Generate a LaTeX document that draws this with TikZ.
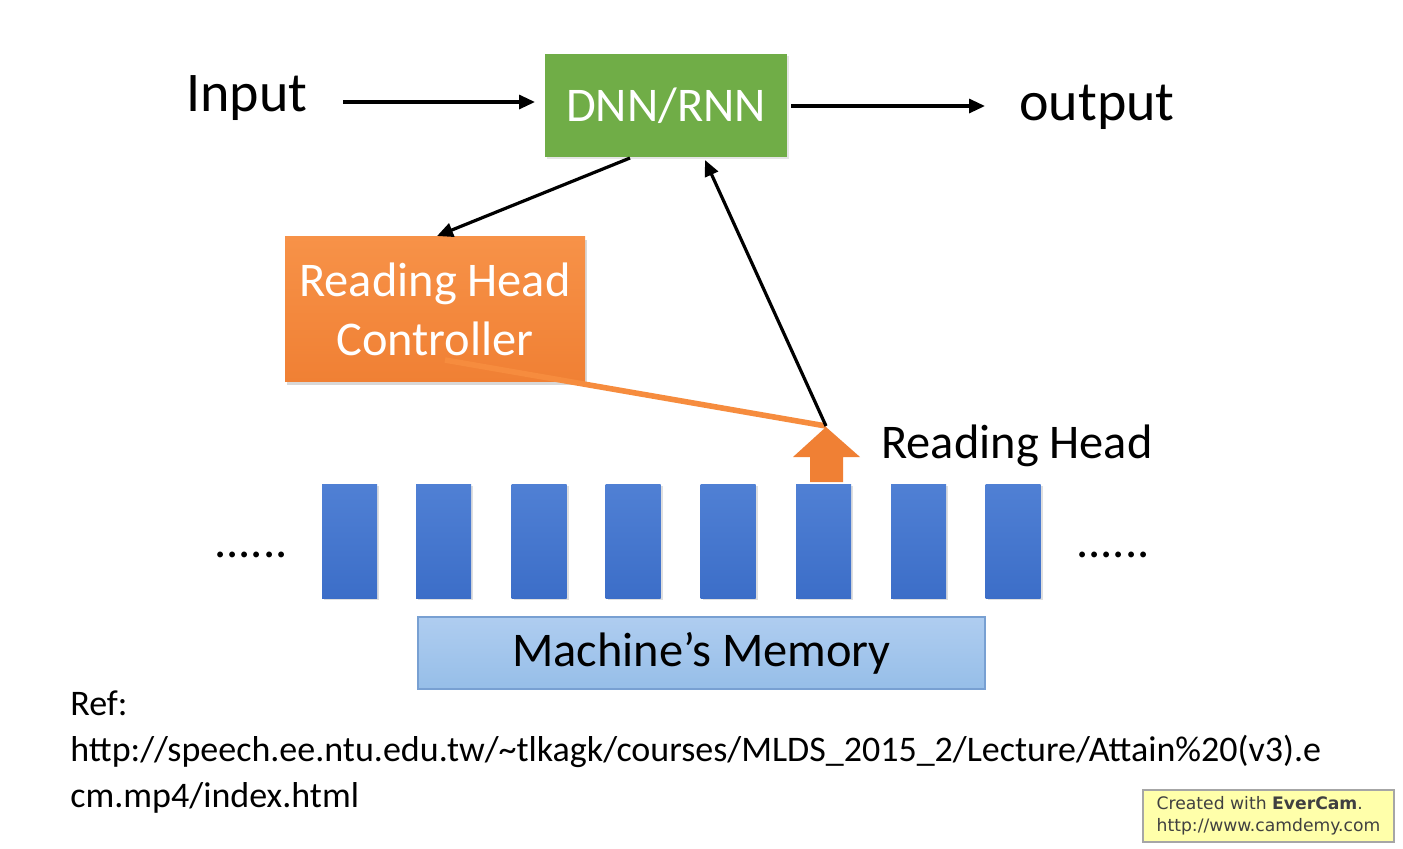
\documentclass[tikz,border=0pt]{standalone}
\usepackage{fontspec}
\setmainfont{Carlito}
\newfontfamily\evfont{DejaVu Sans}
\usetikzlibrary{arrows.meta,shadows}
\definecolor{dnngreen}{RGB}{112,173,71}
\definecolor{ctrlorange}{RGB}{240,128,52}
\definecolor{ctrltop}{RGB}{247,146,72}
\definecolor{linkorange}{RGB}{246,140,62}
\definecolor{barblue}{RGB}{60,110,200}
\definecolor{bartop}{RGB}{80,128,212}
\definecolor{membot}{RGB}{150,190,232}
\definecolor{memtop}{RGB}{175,205,240}
\definecolor{memedge}{RGB}{120,160,210}
\definecolor{evyellow}{RGB}{255,255,170}
\tikzset{
  lbl/.style={font=\fontsize{28}{32}\selectfont, inner sep=0pt},
  lblsm/.style={font=\fontsize{24.2}{29}\selectfont, inner sep=0pt},
  conn/.style={line width=1.6pt, -{Triangle[length=8pt,width=7pt]}},
  membar/.style={draw=none, top color=bartop, bottom color=barblue, minimum width=27.5pt, minimum height=57pt, inner sep=0pt, drop shadow={opacity=0.25, shadow xshift=1pt, shadow yshift=-1pt}},
}
\begin{document}
\begin{tikzpicture}[x=0.5pt,y=-0.5pt]
\useasboundingbox[fill=white] (0,0) rectangle (1403,848);

% top row
\node[lbl] (input) at (247,98) {Input};
\node[lbl] (output) at (1097,107) {output};
\node[lblsm, fill=dnngreen, text=white, minimum width=121pt, minimum height=51.5pt, drop shadow={opacity=0.2, shadow xshift=1pt, shadow yshift=-1pt}] (dnn) at (666,105.5) {DNN/RNN};
\coordinate (inA) at (343,102);
\coordinate (inB) at (535,102);
\coordinate (outA) at (791,106);
\coordinate (outB) at (985,106);
\draw[conn] (inA) -- (inB);
\draw[conn] (outA) -- (outB);

% controller
\node[lblsm, top color=ctrltop, bottom color=ctrlorange, text=white, minimum width=150pt, minimum height=72.5pt, align=center, drop shadow={opacity=0.3, shadow xshift=1pt, shadow yshift=-1.5pt}] (ctrl) at (435,309) {Reading Head\\[0.5pt]Controller};
\coordinate (dnnout) at (630,158);
\coordinate (ctrlin) at (437,236);
\draw[conn] (dnnout) -- (ctrlin);

% reading head
\coordinate (ctrlsrc) at (445,360);
\coordinate (headtip) at (826,426);
\draw[linkorange, line width=2.8pt] (ctrlsrc) -- (headtip);
\fill[ctrlorange] (826,427) -- (860,457) -- (843,457) -- (843,482) -- (810,482) -- (810,457) -- (793,457) -- cycle;
\coordinate (dnnin) at (705,160);
\draw[conn] (headtip) -- (dnnin);
\node[lblsm] (rhlabel) at (1017,446) {Reading Head};

% memory bars
\foreach \i/\x in {1/349.5,2/443.5,3/539,4/633,5/728,6/823.5,7/918.5,8/1013}{
  \node[membar] (bar\i) at (\x,541) {};
}
\node[lblsm] (dotsl) at (251,555) {......};
\node[lblsm] (dotsr) at (1113,555) {......};

% memory
\node[lblsm, top color=memtop, bottom color=membot, draw=memedge, line width=0.6pt, minimum width=283.5pt, minimum height=36pt] (mem) at (701.5,653) {Machine’s Memory};

% reference
\node[font=\fontsize{18}{22}\selectfont, anchor=north west, align=left, inner sep=0pt] (ref) at (70,690) {Ref:\\[1pt]http://speech.ee.ntu.edu.tw/\textasciitilde tlkagk/courses/MLDS\_2015\_2/Lecture/Attain\%20(v3).e\\[1pt]cm.mp4/index.html};

% evercam badge
\node[draw=gray!70, fill=evyellow, line width=0.6pt, minimum width=125.5pt, minimum height=25pt, align=left, font=\evfont\fontsize{8.6}{11}\selectfont, text=black!75] (ever) at (1268.5,816) {Created with \textbf{EverCam}.\\http://www.camdemy.com};
\end{tikzpicture}
\end{document}
